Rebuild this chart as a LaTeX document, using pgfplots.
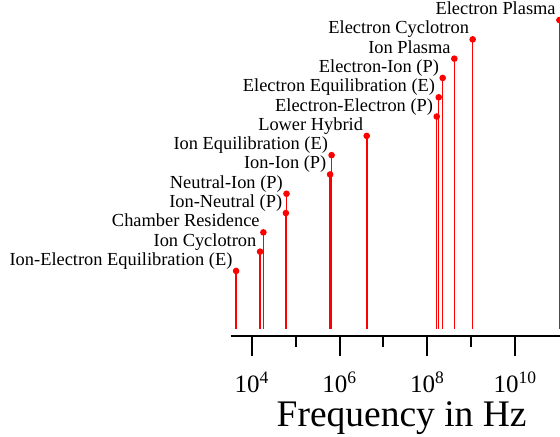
\documentclass[border=0pt]{standalone}
\usepackage{fontspec}
\setmainfont{Liberation Serif}
\usepackage{pgfplots}
\usepackage{pgfplotstable}
\pgfplotsset{compat=1.18}

% Characteristic frequencies (Hz); rank sets the height of each stem
\pgfplotstableread[col sep=comma]{
freq,rank,name
4.4e3,3,Ion-Electron Equilibration (E)
1.55e4,4,Ion Cyclotron
1.84e4,5,Chamber Residence
6.0e4,6,Ion-Neutral (P)
6.2e4,7,Neutral-Ion (P)
6.1e5,8,Ion-Ion (P)
6.6e5,9,Ion Equilibration (E)
4.17e6,10,Lower Hybrid
1.64e8,11,Electron-Electron (P)
1.82e8,12,Electron Equilibration (E)
2.24e8,13,Electron-Ion (P)
4.12e8,14,Ion Plasma
1.08e9,15,Electron Cyclotron
1.02e11,16,Electron Plasma
}\freqs

\begin{document}
\begin{tikzpicture}
\begin{axis}[
  scale only axis,
  width=342pt, height=334.9pt,
  xmode=log,
  xmin=3311, xmax=2.04e11,
  ymin=-0.35, ymax=17,
  axis x line=bottom,
  axis y line=none,
  x axis line style={-, line width=2pt},
  xtick={1e4,1e6,1e8,1e10},
  xticklabels={10\textsuperscript{4},10\textsuperscript{6},10\textsuperscript{8},10\textsuperscript{10}},
  minor xtick={1e5,1e7,1e9},
  tick align=outside,
  major tick length=20pt,
  minor tick length=11pt,
  every tick/.style={black, line width=2pt},
  xticklabel style={font=\fontsize{25}{27}\selectfont, yshift=-13pt},
  xlabel={Frequency in Hz},
  xlabel style={font=\fontsize{37.5}{40}\selectfont, yshift=-2pt},
  clip=false,
]
\addplot[ycomb, red, line width=1.5pt, mark=*, mark size=2.5pt,
  mark options={fill=red, draw=red},
  point meta=explicit symbolic,
  nodes near coords,
  nodes near coords style={anchor=base east, xshift=-3pt, yshift=5.5pt,
    text=black, font=\fontsize{18.4}{20}\selectfont, inner sep=0pt}]
  table[x=freq, y=rank, meta=name] {\freqs};
\coordinate (bbSW) at (axis cs:0.0184,-5.60);
\coordinate (bbNE) at (axis cs:1.054e11,17.04);
\end{axis}
\pgfresetboundingbox
\useasboundingbox (bbSW) rectangle (bbNE);
\end{tikzpicture}
\end{document}
